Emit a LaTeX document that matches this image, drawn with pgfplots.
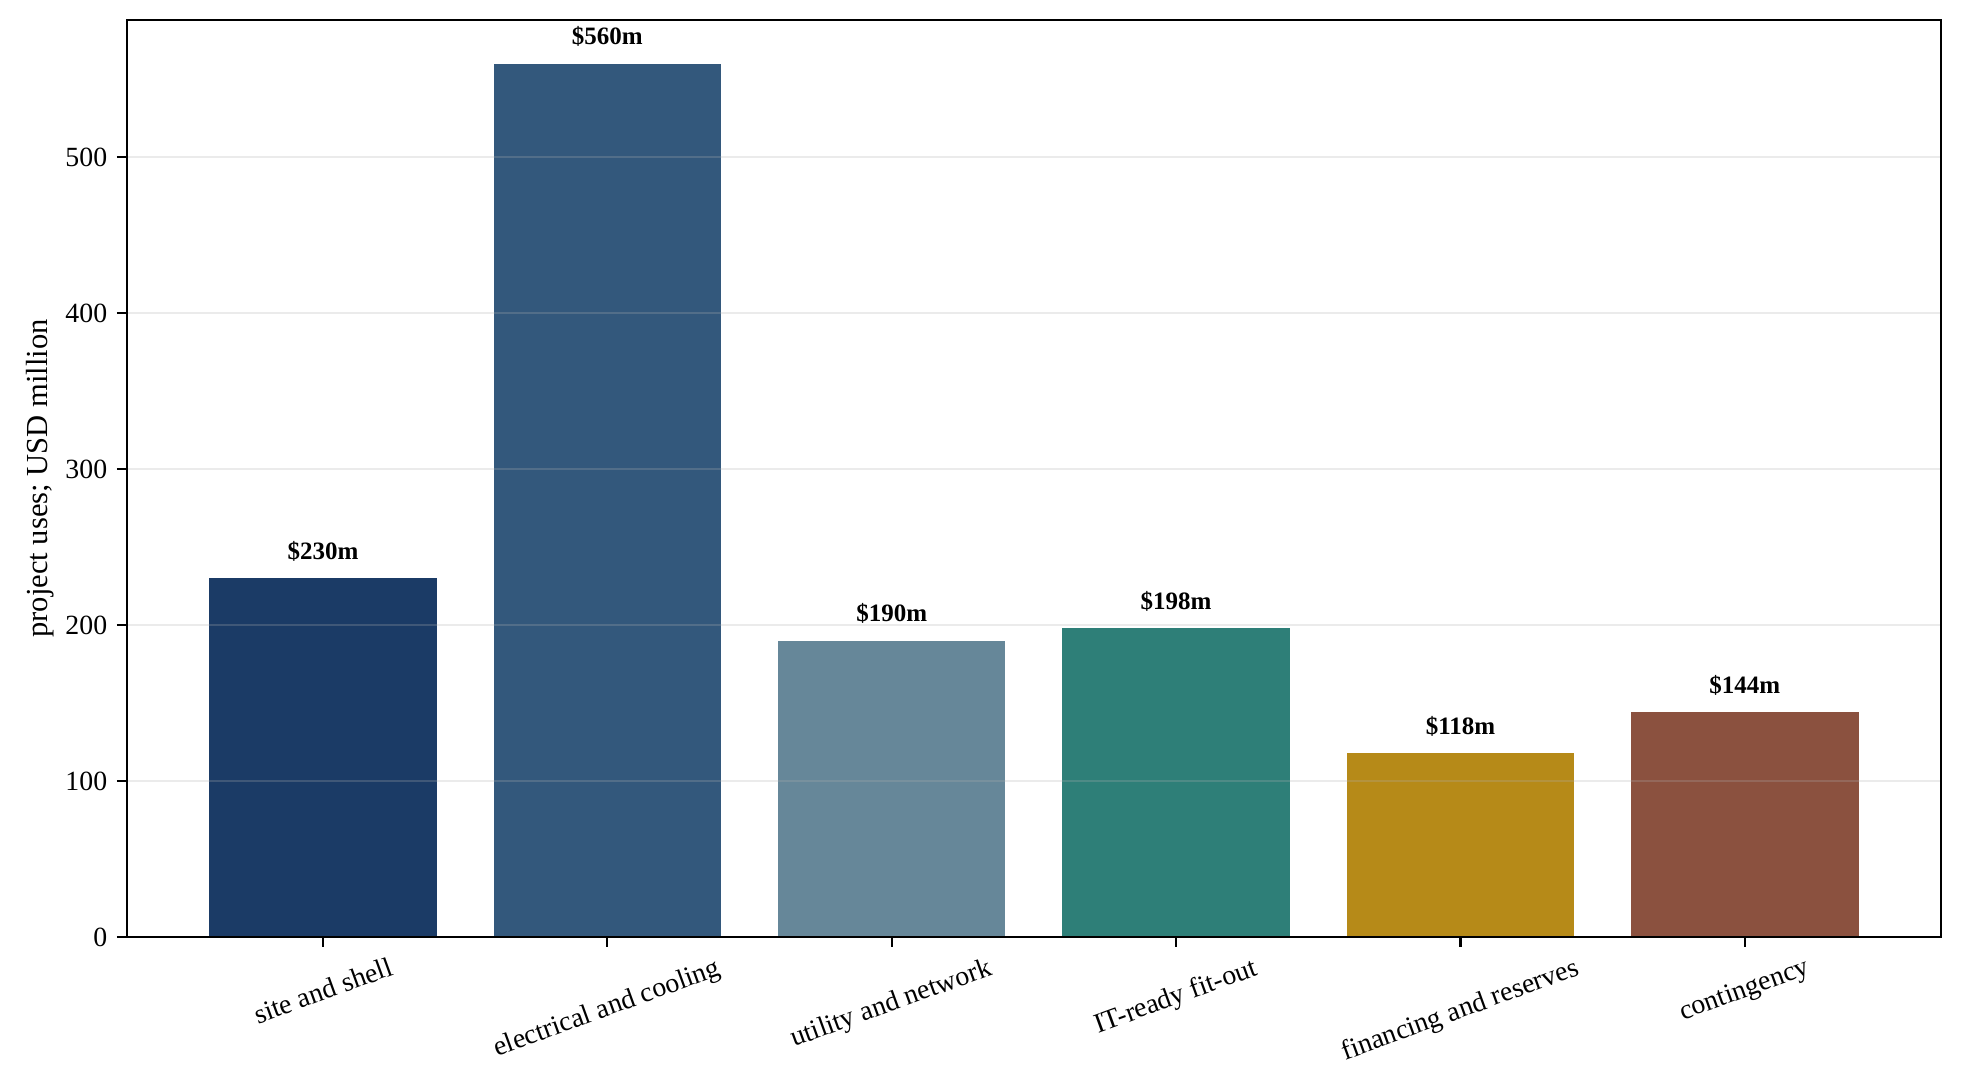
\documentclass[border=0pt]{standalone}
\usepackage{fontspec}
\setmainfont{Liberation Serif}
\usepackage{pgfplots}
\pgfplotsset{compat=1.18}

\definecolor{c1}{HTML}{1B3B66}
\definecolor{c2}{HTML}{33587C}
\definecolor{c3}{HTML}{668799}
\definecolor{c4}{HTML}{2E7F78}
\definecolor{c5}{HTML}{B68A18}
\definecolor{c6}{HTML}{8B513F}
\definecolor{gridc}{RGB}{176,176,176}

\begin{document}
\begin{tikzpicture}
\begin{axis}[
    scale only axis,
    width=653pt, height=330pt,
    xmin=-0.69, xmax=5.69,
    ymin=0, ymax=588,
    ytick={0,100,200,300,400,500},
    xtick={0,1,2,3,4,5},
    xticklabels={
        \rotatebox{20}{site and shell},
        \rotatebox{20}{electrical and cooling},
        \rotatebox{20}{utility and network},
        \rotatebox{20}{IT-ready fit-out},
        \rotatebox{20}{financing and reserves},
        \rotatebox{20}{contingency}},
    xticklabel style={anchor=north, font=\fontsize{10}{12}\selectfont},
    yticklabel style={font=\fontsize{10}{12}\selectfont},
    /pgf/number format/assume math mode=true,
    tick align=outside,
    tick pos=left,
    major tick length=3.5pt,
    every tick/.style={black, line width=0.8pt},
    axis line style={line width=0.8pt},
    ymajorgrids=true,
    grid style={gridc, opacity=0.25, line width=0.6pt},
    axis on top,
    ylabel={project uses; USD million},
    ylabel style={at={(axis description cs:-0.0475,0.5)}, anchor=center,
                  font=\fontsize{11}{13}\selectfont},
    ybar, bar width=0.8, bar shift=0pt,
    nodes near coords={\bfseries\$\pgfmathprintnumber[fixed,precision=0]{\pgfplotspointmeta}m},
    every node near coord/.append style={anchor=base, yshift=6.8pt,
                  font=\fontsize{9}{11}\selectfont, black},
]
\addplot[fill=c1, draw=none] coordinates {(0,230)};
\addplot[fill=c2, draw=none] coordinates {(1,560)};
\addplot[fill=c3, draw=none] coordinates {(2,190)};
\addplot[fill=c4, draw=none] coordinates {(3,198)};
\addplot[fill=c5, draw=none] coordinates {(4,118)};
\addplot[fill=c6, draw=none] coordinates {(5,144)};
\end{axis}
\pgfresetboundingbox
\path[use as bounding box] ([shift={(-45.6pt,-52.3pt)}]current axis.south west)
    rectangle ([shift={(8.6pt,7.2pt)}]current axis.north east);
\end{tikzpicture}
\end{document}
